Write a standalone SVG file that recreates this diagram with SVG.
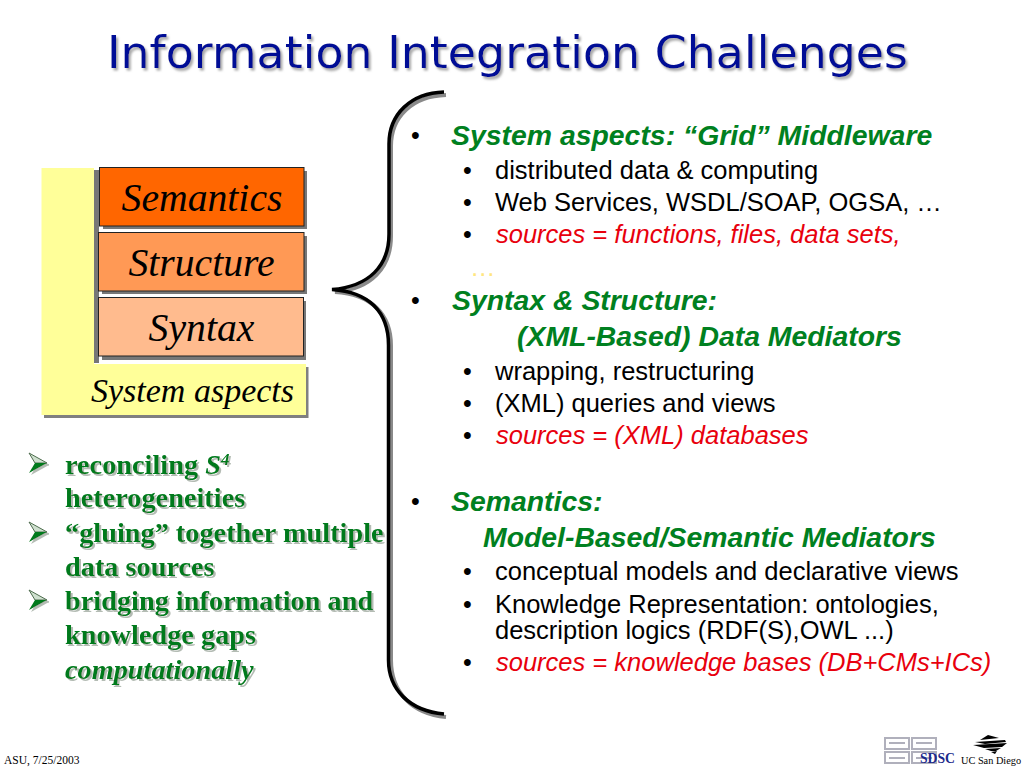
<svg xmlns="http://www.w3.org/2000/svg" width="1024" height="768" viewBox="0 0 1024 768">
<defs>
<filter id="ts" x="-5%" y="-20%" width="110%" height="150%"><feDropShadow dx="2" dy="2.500" stdDeviation="0.8" flood-color="#a8a8a8"/></filter>
<filter id="ts2" x="-5%" y="-20%" width="110%" height="150%"><feDropShadow dx="2" dy="2" stdDeviation="0.7" flood-color="#b4bcb4"/></filter>
<g id="arrow"><path d="M29 -10L47 0H35Z" fill="#cfe0cf" stroke="#4e6d4e" stroke-width="1"/><path d="M29 10L47 0H35Z" fill="#067a1c"/></g>
</defs>
<style>
text{white-space:pre}
.ar{font-family:"Liberation Sans",Arial,sans-serif;font-size:25.500px;fill:#000}
.h{font-family:"Liberation Sans",Arial,sans-serif;font-size:28.400px;font-style:italic;font-weight:bold;fill:#008020}
.red{fill:#e8000d;font-style:italic}
.box{font-family:"Liberation Serif","Times New Roman",serif;font-style:italic;fill:#000;text-anchor:middle;font-size:39.700px}
.g{font-family:"Liberation Serif","Times New Roman",serif;font-weight:bold;font-size:28.300px;fill:#047a1c}
.bu{font-family:"Liberation Sans",Arial,sans-serif;font-size:25px;fill:#000}
.brace{fill:none;stroke-linecap:butt}
</style>
<rect width="1024" height="768" fill="#fff"/>
<g id="title"><text x="107" y="68" font-family="'DejaVu Sans',Verdana,sans-serif" font-size="45" fill="#000f96" filter="url(#ts)" textLength="801" lengthAdjust="spacingAndGlyphs">Information Integration Challenges</text></g>

<g id="stack-base">
<rect x="44" y="415" width="264" height="3" fill="#808080"/>
<rect x="94" y="170" width="5" height="193" fill="#777"/>
<rect x="306" y="367" width="2.500" height="51" fill="#808080"/>
<path d="M41.500 168H94V364H306V415H41.500Z" fill="#ffff99"/>
</g>
<g id="system-aspects">
<text x="192.500" y="402" class="box" style="font-size:34px">System aspects</text>
</g>
<g id="semantics">
<rect x="103" y="171" width="204" height="58" fill="#777"/>
<rect x="99.500" y="167.500" width="204.500" height="58.500" fill="#ff6600" stroke="#222" stroke-width="1"/>
<text x="202" y="211" class="box">Semantics</text>
</g>
<g id="structure">
<rect x="102" y="236" width="205" height="58" fill="#777"/>
<rect x="98.500" y="232.500" width="205.500" height="58.500" fill="#ff9955" stroke="#222" stroke-width="1"/>
<text x="201.500" y="276" class="box">Structure</text>
</g>
<g id="syntax">
<rect x="102" y="301" width="204" height="59" fill="#777"/>
<rect x="98.500" y="297.500" width="205" height="58.500" fill="#ffbb8e" stroke="#222" stroke-width="1"/>
<text x="201.500" y="341" class="box">Syntax</text>
</g>

<g id="connectors">
<path class="brace" d="M446 95C412 96 391 117 391 146V236C391 268 371 289 335 292C371 294 391 314 391 346V660C391 692 412 714 446 717" stroke="#8a8a8a" stroke-width="4"/>
<path class="brace" d="M444 92C411 93 389 114 389 144V234C389 266 369 286.500 332 289.500C369 292 388.500 312 388.500 345V660C388.500 690 410 711 444 714" stroke="#000" stroke-width="3.500"/>
</g>

<g id="left-bullets">
<g filter="url(#ts2)">
<use href="#arrow" y="463"/>
<use href="#arrow" y="532"/>
<use href="#arrow" y="600"/>
<text class="g" x="65" y="474">reconciling <tspan font-style="italic">S</tspan><tspan font-style="italic" font-size="17" dy="-9">4</tspan></text>
<text class="g" x="65" y="507">heterogeneities</text>
<text class="g" x="65" y="542">“gluing” together multiple</text>
<text class="g" x="65" y="576">data sources</text>
<text class="g" x="65" y="610">bridging information and</text>
<text class="g" x="65" y="644">knowledge gaps</text>
<text class="g" x="65" y="679" font-style="italic">computationally</text>
</g>
</g>

<g id="right-list">
<text class="bu" x="411" y="144">•</text>
<text class="h" x="451" y="145">System aspects: “Grid” Middleware</text>
<text class="bu" x="463" y="179">•</text><text class="ar" x="495" y="179">distributed data &amp; computing</text>
<text class="bu" x="463" y="211">•</text><text class="ar" x="495" y="211">Web Services, WSDL/SOAP, OGSA, …</text>
<text class="bu" x="463" y="243">•</text><text class="ar red" x="496" y="243">sources = functions, files, data sets,</text>
<text class="ar" x="470" y="276" style="fill:#ffe680">…</text>

<text class="bu" x="411" y="309">•</text>
<text class="h" x="452" y="310">Syntax &amp; Structure:</text>
<text class="h" x="517" y="346">(XML-Based) Data Mediators</text>
<text class="bu" x="463" y="380">•</text><text class="ar" x="495" y="380">wrapping, restructuring</text>
<text class="bu" x="463" y="412">•</text><text class="ar" x="495" y="412">(XML) queries and views</text>
<text class="bu" x="463" y="444">•</text><text class="ar red" x="496" y="444">sources = (XML) databases</text>

<text class="bu" x="411" y="510">•</text>
<text class="h" x="451" y="511">Semantics:</text>
<text class="h" x="483" y="547">Model-Based/Semantic Mediators</text>
<text class="bu" x="463" y="580">•</text><text class="ar" x="495" y="580">conceptual models and declarative views</text>
<text class="bu" x="463" y="613">•</text><text class="ar" x="495" y="613">Knowledge Representation: ontologies,</text>
<text class="ar" x="495" y="639">description logics (RDF(S),OWL ...)</text>
<text class="bu" x="463" y="671">•</text><text class="ar red" x="496" y="671">sources = knowledge bases (DB+CMs+ICs)</text>
</g>

<g id="footer">
<text x="4" y="764" font-family="'Liberation Serif',serif" font-size="11.500" fill="#000">ASU, 7/25/2003</text>
<g id="sdsc-logo" fill="none" stroke="#b0b0bc" stroke-width="2">
<path d="M885 738H909V749H885ZM885 752H909V763H885ZM889 743H905M889 758H905"/>
<path d="M912 738H936V749H912ZM912 752H936V763H912ZM916 743H932M916 758H932"/>
</g>
<text x="920" y="763" font-family="'Liberation Serif',serif" font-size="14" font-weight="bold" fill="#1b2a8c" textLength="35" lengthAdjust="spacingAndGlyphs">SDSC</text>
<text x="961" y="764" font-family="'Liberation Serif',serif" font-size="10.300" fill="#000">UC San Diego</text>
<g id="ucsd-logo" fill="#000">
<path d="M988 735L999 738L980 740Z"/>
<path d="M975 742L1005 740L1006 742L985 744Z"/>
<path d="M973 745L1007 743L1002 747L984 748Z"/>
<path d="M985 749L1001 748L996 751L991 751Z"/>
<path d="M991 752L997 751L995 754Z"/>
</g>
</g>
</svg>
